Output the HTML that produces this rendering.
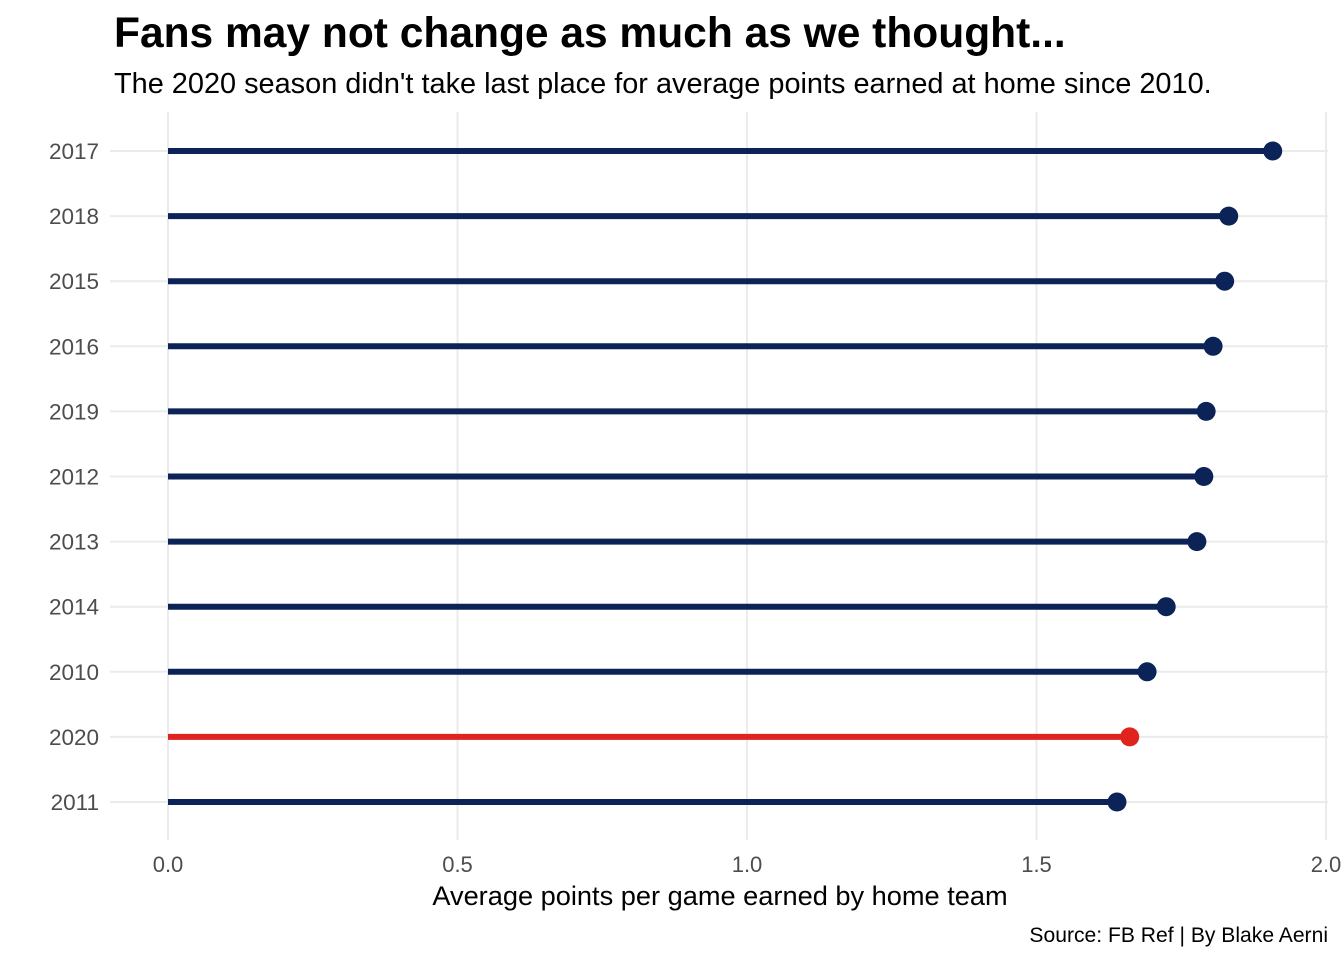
<!DOCTYPE html>
<html><head><meta charset="utf-8"><style>
body{margin:0;background:#fff;font-family:"Liberation Sans",Arial,sans-serif}
svg text{font-family:"Liberation Sans",Arial,sans-serif}
</style></head><body>
<svg id="chart" width="1344" height="960">
<text x="114" y="47" font-size="42.5" font-weight="bold" fill="#000">Fans may not change as much as we thought...</text>
<text x="114" y="93" font-size="28.9" fill="#000">The 2020 season didn't take last place for average points earned at home since 2010.</text>
<g id="grid"></g>
<g id="marks"></g>
<g id="axes"></g>
<text x="720" y="905" font-size="27.2" text-anchor="middle" fill="#000">Average points per game earned by home team</text>
<text x="1328" y="942" font-size="21.1" text-anchor="end" fill="#000">Source: FB Ref | By Blake Aerni</text>
</svg>
<script>
const categories=["2017","2018","2015","2016","2019","2012","2013","2014","2010","2020","2011"];
const values=[1.908,1.832,1.825,1.805,1.793,1.789,1.777,1.724,1.691,1.661,1.639];
const xTicks=[0,0.5,1.0,1.5,2.0];
const xTickLabels=["0.0","0.5","1.0","1.5","2.0"];
const highlight="2020";
const NS="http://www.w3.org/2000/svg";
const x=v=>168+v*579;
const y=i=>151+i*65.1;
function mk(t,a,p){const e=document.createElementNS(NS,t);for(const k in a)e.setAttribute(k,a[k]);p.appendChild(e);return e;}
const grid=document.getElementById('grid'),marks=document.getElementById('marks'),axes=document.getElementById('axes');
xTicks.forEach((t,j)=>{
 const g=mk('line',{x1:x(t),x2:x(t),y1:112,y2:840,stroke:'#ebebeb','stroke-width':2},grid);
 
 
 const l=mk('text',{x:x(t),y:872,'font-size':22,'text-anchor':'middle',fill:'#4d4d4d'},axes);
 l.textContent=xTickLabels[j];
 
 
});
categories.forEach((c,i)=>{
 const g=mk('line',{x1:110,x2:1328,y1:y(i),y2:y(i),stroke:'#ebebeb','stroke-width':2},grid);
 
 
 const col=c===highlight?'#e0231e':'#0b2357';
 const s=mk('line',{x1:x(0),x2:x(values[i]),y1:y(i),y2:y(i),stroke:col,'stroke-width':6},marks);
 
 
 const p=mk('circle',{cx:x(values[i]),cy:y(i),r:9.5,fill:col},marks);
 
 
 const l=mk('text',{x:99,y:y(i)+8,'font-size':22.5,'text-anchor':'end',fill:'#4d4d4d'},axes);
 l.textContent=c;
 
 
});
</script>
</body></html>
